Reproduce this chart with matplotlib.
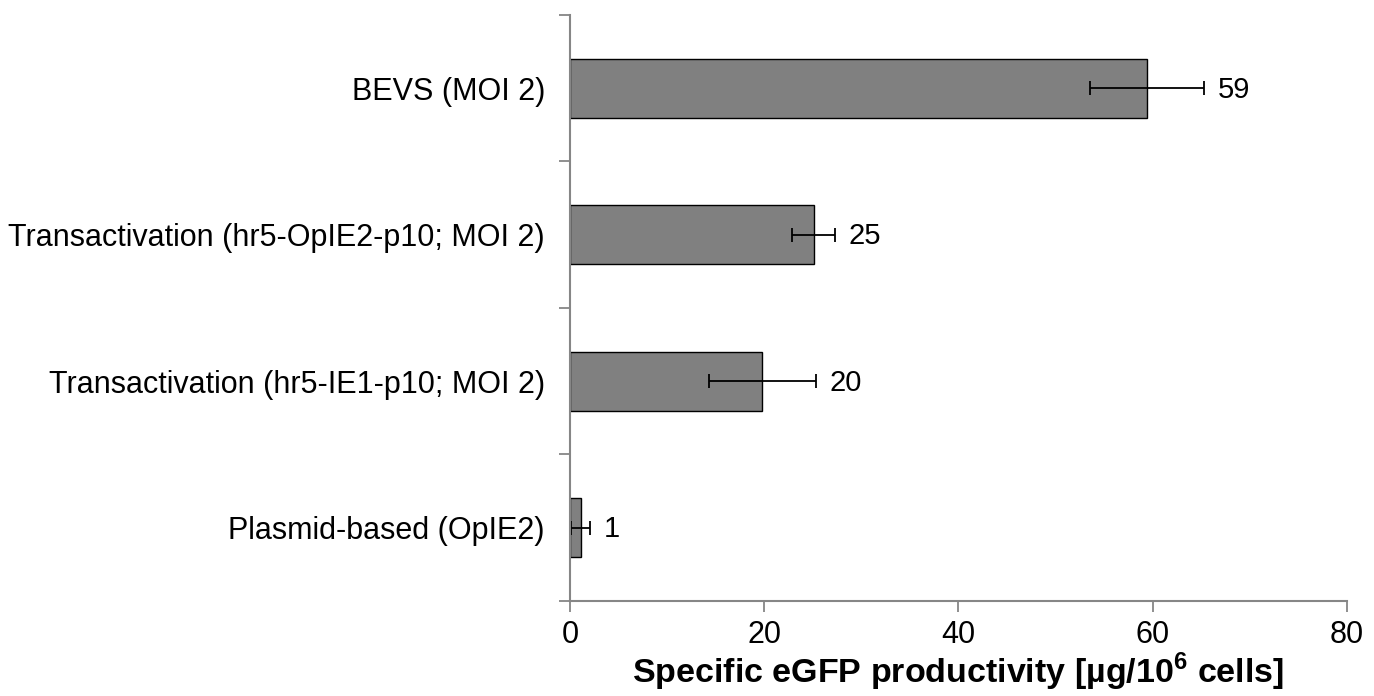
import matplotlib.pyplot as plt

# Data (bottom to top)
categories = ['Plasmid-based (OpIE2)',
              'Transactivation (hr5-IE1-p10; MOI 2)',
              'Transactivation (hr5-OpIE2-p10; MOI 2)',
              'BEVS (MOI 2)']
values = [1.1, 19.8, 25.1, 59.4]
errors = [1.0, 5.5, 2.2, 5.9]
value_labels = ['1', '20', '25', '59']

plt.rcParams['font.family'] = ['Liberation Sans', 'DejaVu Sans']
plt.rcParams['mathtext.fontset'] = 'custom'
plt.rcParams['mathtext.rm'] = 'Liberation Sans'
plt.rcParams['mathtext.bf'] = 'Liberation Sans:bold'

fig = plt.figure(figsize=(13.74, 6.96), dpi=100)
ax = fig.add_axes([0.4148, 0.1365, 0.5655, 0.842])

pos = list(range(len(categories)))
ax.barh(pos, values, height=0.4, color='#808080', edgecolor='black', linewidth=1.0,
        xerr=errors, error_kw=dict(ecolor='black', elinewidth=1.3, capsize=5, capthick=1.3))

# value labels after the error bars
for p, v, e, lab in zip(pos, values, errors, value_labels):
    ax.annotate(lab, (v + e, p), xytext=(10, -1), textcoords='offset points',
                va='center', ha='left', fontsize=21)

ax.set_xlim(0, 80)
ax.set_ylim(-0.5, len(categories) - 0.5)
ax.set_xticks([0, 20, 40, 60, 80])
ax.tick_params(axis='x', labelsize=22, length=8, color='#868686', width=1.3, pad=6)

# category labels between boundary ticks, like Excel
ax.set_yticks([p - 0.5 for p in pos] + [pos[-1] + 0.5])
ax.set_yticklabels([])
ax.set_yticks(pos, minor=True)
ax.set_yticklabels(categories, minor=True, fontsize=22)
ax.tick_params(axis='y', which='minor', length=0, pad=18)
ax.tick_params(axis='y', which='major', length=8, color='#868686', width=1.3)

for s in ['top', 'right']:
    ax.spines[s].set_visible(False)
for s in ['left', 'bottom']:
    ax.spines[s].set_color('#868686')
    ax.spines[s].set_linewidth(1.5)

ax.set_xlabel('Specific eGFP productivity [µg/10$^\\mathbf{6}$ cells]',
              fontsize=24.5, fontweight='bold', labelpad=0)

fig.savefig('out.png', dpi=100)
